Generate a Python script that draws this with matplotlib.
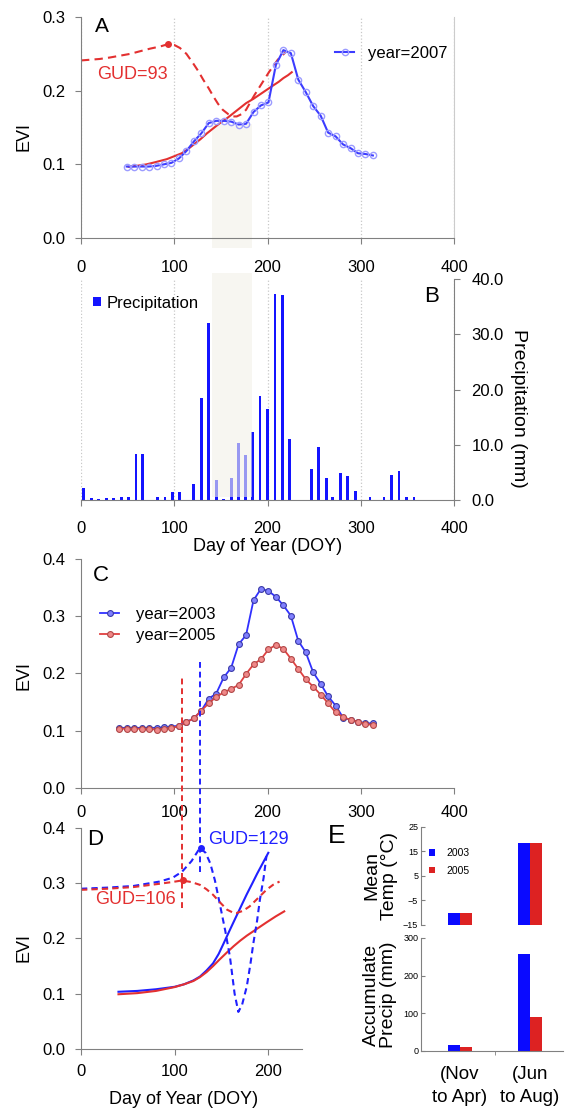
import numpy as np
import matplotlib.pyplot as plt

plt.rcParams['font.family'] = ['Liberation Sans', 'DejaVu Sans']

# ---- panel A: EVI 2007 with fitted curve and curvature-change curve
doy_a = np.arange(49, 314, 8)
evi_2007 = [0.097, 0.097, 0.097, 0.097, 0.098, 0.100, 0.102, 0.108, 0.118, 0.131,
            0.142, 0.156, 0.159, 0.159, 0.158, 0.154, 0.155, 0.171, 0.180, 0.184,
            0.235, 0.255, 0.251, 0.215, 0.198, 0.179, 0.166, 0.143, 0.138, 0.127,
            0.122, 0.115, 0.114, 0.112]
fit_doy_a = [51, 60, 70, 80, 92, 100, 108, 114, 120, 128, 135, 142, 149, 156, 163,
             170, 177, 185, 192, 199, 206, 212, 217, 222, 226]
fit_evi_a = [0.0967, 0.098, 0.0999, 0.103, 0.107, 0.111, 0.115, 0.120, 0.126, 0.134,
             0.142, 0.149, 0.156, 0.162, 0.169, 0.176, 0.183, 0.189, 0.195, 0.201,
             0.207, 0.212, 0.217, 0.221, 0.225]
curv_doy_a = [0, 10, 20, 31, 42, 53, 63, 74, 85, 93, 100, 106, 113, 120, 126, 131, 137,
              142, 147, 152, 158, 163, 167, 172, 177, 181, 186, 192, 197, 202, 207, 211,
              216, 220]
curv_a = [0.241, 0.242, 0.243, 0.245, 0.2475, 0.250, 0.2534, 0.257, 0.260, 0.263,
          0.262, 0.258, 0.250, 0.2375, 0.226, 0.215, 0.203, 0.192, 0.182, 0.174,
          0.168, 0.165, 0.165, 0.168, 0.174, 0.183, 0.194, 0.206, 0.216, 0.226,
          0.235, 0.242, 0.248, 0.253]
gud_a = 93
gud_a_evi = 0.263
band_doy = [140, 183]

# ---- panel B: 8-day precipitation
doy_b = [3, 11, 19, 27, 35, 43, 51, 59, 66, 82, 90, 98, 106, 121, 129, 137, 145, 153,
         161, 169, 176, 184, 192, 200, 208, 216, 224, 247, 255, 263, 270, 278, 286,
         294, 310, 318, 325, 333, 341, 349, 357]
precip = [2.1, 0.35, 0.25, 0.35, 0.3, 0.6, 0.55, 8.4, 8.3, 0.6, 0.6, 1.5, 1.5, 2.9,
          18.5, 32.0, 3.6, 0.25, 4.0, 10.3, 8.2, 12.3, 18.9, 16.5, 37.3, 37.2, 11.1,
          5.6, 9.6, 4.0, 0.5, 4.95, 4.4, 1.7, 0.6, 0.1, 0.6, 4.5, 5.3, 0.6, 0.5]

# ---- panel C: EVI 2003 vs 2005
doy_c = np.arange(41, 314, 8)
evi_2003 = [0.105, 0.105, 0.105, 0.105, 0.105, 0.105, 0.106, 0.107, 0.109, 0.115,
            0.122, 0.135, 0.156, 0.165, 0.193, 0.210, 0.251, 0.267, 0.328, 0.348,
            0.344, 0.334, 0.319, 0.301, 0.257, 0.237, 0.202, 0.182, 0.160, 0.144,
            0.123, 0.119, 0.116, 0.113, 0.113]
evi_2005 = [0.1035, 0.1035, 0.1035, 0.1035, 0.103, 0.102, 0.1035, 0.105, 0.1075,
            0.1145, 0.122, 0.135, 0.148, 0.159, 0.167, 0.173, 0.180, 0.199, 0.216,
            0.225, 0.242, 0.250, 0.243, 0.226, 0.208, 0.190, 0.177, 0.163, 0.148,
            0.132, 0.124, 0.119, 0.116, 0.112, 0.110]
gud_line_doy = [108.5, 128]      # 2005, 2003
gud_line_top = [0.194, 0.226]
gud_line_bottom = [-0.21, -0.147]

# ---- panel D: fitted curves and curvature-change curves
fit_doy_d03 = [40, 60, 80, 100, 110, 120, 127, 134, 141, 147, 152, 158, 163, 170, 177,
               183, 188, 194, 200]
fit_d03 = [0.1035, 0.105, 0.108, 0.1125, 0.117, 0.124, 0.131, 0.142, 0.155, 0.172,
           0.190, 0.212, 0.230, 0.255, 0.280, 0.300, 0.317, 0.336, 0.355]
fit_doy_d05 = [40, 60, 80, 100, 110, 120, 127, 134, 141, 148, 156, 163, 170, 177, 184,
               191, 198, 208, 217]
fit_d05 = [0.099, 0.101, 0.105, 0.112, 0.117, 0.123, 0.130, 0.139, 0.150, 0.162, 0.175,
           0.186, 0.196, 0.205, 0.213, 0.221, 0.229, 0.240, 0.249]
curv_doy_d03 = [0, 28, 56, 84, 98, 108, 118, 127, 133, 138, 143, 148, 154, 159, 164, 168,
                172, 177, 181, 184, 188, 191, 195, 198]
curv_d03 = [0.290, 0.292, 0.295, 0.303, 0.310, 0.321, 0.340, 0.364, 0.355, 0.336, 0.305,
            0.264, 0.214, 0.167, 0.100, 0.067, 0.080, 0.113, 0.155, 0.191, 0.232, 0.270,
            0.310, 0.349]
curv_doy_d05 = [0, 28, 56, 84, 97, 108, 118, 127, 134, 141, 148, 156, 162, 166, 173, 180,
                189, 198, 205, 212]
curv_d05 = [0.288, 0.290, 0.293, 0.299, 0.302, 0.305, 0.302, 0.297, 0.289, 0.279, 0.266,
            0.252, 0.247, 0.246, 0.250, 0.258, 0.273, 0.288, 0.297, 0.303]
gud_d = [128, 108.5]             # 2003, 2005
gud_d_evi = [0.364, 0.305]

# ---- panel E: seasonal climate
periods = ['(Nov\nto Apr)', '(Jun\nto Aug)']
temp_2003 = [-10.3, 18.6]
temp_2005 = [-10.3, 18.6]
precip_2003 = [17, 257]
precip_2005 = [11.5, 89]

BLUE = '#2020ff'
RED = '#e33030'
GRAY = '#808080'
BAND = '#f2f1e8'

fig = plt.figure(figsize=(5.69, 11.10), dpi=100)

# ---------------- A
ax_a = fig.add_axes([0.1424, 0.7856, 0.6555, 0.1991])
ax_a.fill_between(band_doy, -0.0136, 0.155, color=BAND, alpha=0.6, lw=0,
                  zorder=0.5, clip_on=False)
ax_a.plot(fit_doy_a, fit_evi_a, color=RED, lw=1.5, zorder=2)
ax_a.plot(curv_doy_a, curv_a, color=RED, lw=1.5, dashes=(4, 2.5), zorder=2)
ax_a.plot([gud_a], [gud_a_evi], 'o', color=RED, ms=4, zorder=3)
line07, = ax_a.plot(doy_a, evi_2007, color='#3c3cff', lw=1.5, marker='o', ms=4.5,
                    mfc='none', mec='#9c9cff', mew=1, zorder=3, label='year=2007')
ax_a.set_xlim(0, 400)
ax_a.set_ylim(0, 0.3)
ax_a.set_xticks([0, 100, 200, 300, 400])
ax_a.set_yticks([0.0, 0.1, 0.2, 0.3])
ax_a.xaxis.grid(True, linestyle=':', color='#c8c8c8', lw=0.9)
ax_a.set_axisbelow(True)
ax_a.spines['top'].set_visible(False)
ax_a.spines['right'].set_color('#cccccc')
for s in ['left', 'bottom']:
    ax_a.spines[s].set_color(GRAY)
ax_a.tick_params(axis='x', labelsize=12, color=GRAY, length=4, pad=11.5)
ax_a.tick_params(axis='y', labelsize=12, color=GRAY, length=4, pad=7)
ax_a.set_ylabel('EVI', fontsize=13)
ax_a.yaxis.set_label_coords(-0.153, 0.457)
ax_a.yaxis.label.set_va('center')
ax_a.text(0.056, 0.955, 'A', transform=ax_a.transAxes, fontsize=15, ha='center', va='center')
ax_a.text(0.043, 0.742, 'GUD=93', transform=ax_a.transAxes, fontsize=13, color=RED,
          ha='left', va='center')
ax_a.legend(handles=[line07], loc='center left', bbox_to_anchor=(0.681, 0.837),
            frameon=False, borderpad=0, borderaxespad=0, handlelength=1.15,
            handletextpad=0.85, fontsize=12, numpoints=1)

# ---------------- B
ax_b = fig.add_axes([0.1424, 0.5495, 0.6555, 0.1991])
ax_b.bar(doy_b, precip, width=3, color='#1414ff', zorder=2, label='Precipitation')
ax_b.fill_between(band_doy, 0.6, 41.1, color=BAND, alpha=0.6, lw=0, zorder=3,
                  clip_on=False)
ax_b.set_xlim(0, 400)
ax_b.set_ylim(0, 40)
ax_b.set_xticks([0, 100, 200, 300, 400])
ax_b.set_yticks([0, 10, 20, 30, 40])
ax_b.set_yticklabels(['%.1f' % v for v in [0, 10, 20, 30, 40]])
ax_b.xaxis.grid(True, linestyle=':', color='#c8c8c8', lw=0.9)
ax_b.set_axisbelow(True)
ax_b.yaxis.tick_right()
ax_b.spines['top'].set_visible(False)
ax_b.spines['left'].set_visible(False)
for s in ['right', 'bottom']:
    ax_b.spines[s].set_color(GRAY)
ax_b.tick_params(axis='x', labelsize=12, color=GRAY, length=4, pad=10.8)
ax_b.tick_params(axis='y', labelsize=12, color=GRAY, length=4, pad=8.5)
ax_b.set_xlabel('Day of Year (DOY)', fontsize=13, labelpad=2)
ax_b.yaxis.set_label_position('right')
ax_b.set_ylabel('Precipitation (mm)', fontsize=14, rotation=270)
ax_b.yaxis.set_label_coords(1.172, 0.416)
ax_b.yaxis.label.set_va('center')
ax_b.text(0.941, 0.923, 'B', transform=ax_b.transAxes, fontsize=16, ha='center', va='center')
ax_b.legend(loc='center left', bbox_to_anchor=(0.033, 0.891), frameon=False,
            borderpad=0, borderaxespad=0, handlelength=0.48, handleheight=0.48,
            handletextpad=0.3, fontsize=12)

# ---------------- C
ax_c = fig.add_axes([0.1424, 0.2901, 0.6555, 0.2063])
l03, = ax_c.plot(doy_c, evi_2003, color='#3030ff', lw=1.3, marker='o', ms=4.2,
                 mfc='#8080ff', mec='#3a3aa8', mew=0.8, label='year=2003', zorder=3)
l05, = ax_c.plot(doy_c, evi_2005, color='#e04040', lw=1.3, marker='o', ms=4.2,
                 mfc='#f08888', mec='#b04848', mew=0.8, label='year=2005', zorder=3)
for xg, y0, y1, c in zip(gud_line_doy, gud_line_bottom, gud_line_top, [RED, BLUE]):
    ax_c.plot([xg, xg], [y0, y1], color=c, lw=1.4, dashes=(3, 2), clip_on=False, zorder=4)
ax_c.set_xlim(0, 400)
ax_c.set_ylim(0, 0.4)
ax_c.set_xticks([0, 100, 200, 300, 400])
ax_c.set_yticks([0.0, 0.1, 0.2, 0.3, 0.4])
ax_c.spines['top'].set_visible(False)
ax_c.spines['right'].set_visible(False)
for s in ['left', 'bottom']:
    ax_c.spines[s].set_color(GRAY)
ax_c.tick_params(axis='x', labelsize=12, color=GRAY, length=4, pad=8.6)
ax_c.tick_params(axis='y', labelsize=12, color=GRAY, length=4, pad=7)
ax_c.set_ylabel('EVI', fontsize=13)
ax_c.yaxis.set_label_coords(-0.153, 0.49)
ax_c.yaxis.label.set_va('center')
ax_c.text(0.054, 0.93, 'C', transform=ax_c.transAxes, fontsize=16, ha='center', va='center')
ax_c.legend(handles=[l03, l05], loc='center left', bbox_to_anchor=(0.051, 0.712),
            frameon=False, borderpad=0, borderaxespad=0, handlelength=1.15,
            handletextpad=1.0, labelspacing=0.4, fontsize=12, numpoints=1)

# ---------------- D
ax_d = fig.add_axes([0.1424, 0.055, 0.3884, 0.1991])
ax_d.patch.set_visible(False)
ax_d.plot(fit_doy_d03, fit_d03, color=BLUE, lw=1.5)
ax_d.plot(fit_doy_d05, fit_d05, color=RED, lw=1.5)
ax_d.plot(curv_doy_d03, curv_d03, color=BLUE, lw=1.5, dashes=(3, 2))
ax_d.plot(curv_doy_d05, curv_d05, color=RED, lw=1.5, dashes=(3, 2))
ax_d.plot(gud_d[:1], gud_d_evi[:1], 'o', color=BLUE, ms=4)
ax_d.plot(gud_d[1:], gud_d_evi[1:], 'o', color=RED, ms=4)
ax_d.set_xlim(0, 236)
ax_d.set_ylim(0, 0.4)
ax_d.set_xticks([0, 100, 200])
ax_d.set_yticks([0.0, 0.1, 0.2, 0.3, 0.4])
ax_d.spines['top'].set_visible(False)
ax_d.spines['right'].set_visible(False)
for s in ['left', 'bottom']:
    ax_d.spines[s].set_color(GRAY)
ax_d.tick_params(axis='x', labelsize=12, color=GRAY, length=4, pad=6.5)
ax_d.tick_params(axis='y', labelsize=12, color=GRAY, length=4, pad=7)
ax_d.set_ylabel('EVI', fontsize=13)
ax_d.yaxis.set_label_coords(-0.258, 0.46)
ax_d.yaxis.label.set_va('center')
ax_d.set_xlabel('Day of Year (DOY)', fontsize=13)
ax_d.xaxis.set_label_coords(0.466, -0.23)
ax_d.xaxis.label.set_va('center')
ax_d.text(0.063, 0.946, 'D', transform=ax_d.transAxes, fontsize=16, ha='center', va='center')
ax_d.text(0.575, 0.946, 'GUD=129', transform=ax_d.transAxes, fontsize=13,
          color=BLUE, ha='left', va='center')
ax_d.text(0.063, 0.674, 'GUD=106', transform=ax_d.transAxes, fontsize=13,
          color=RED, ha='left', va='center')

# ---------------- E
x = np.arange(len(periods))
w = 0.171
E_BLUE = '#0a0aff'
E_RED = '#dd2222'

ax_et = fig.add_axes([0.7399, 0.1667, 0.2496, 0.0883])
ax_et.bar(x - w / 2, np.array(temp_2003) + 15, w, bottom=-15, color=E_BLUE, label='2003')
ax_et.bar(x + w / 2, np.array(temp_2005) + 15, w, bottom=-15, color=E_RED, label='2005')
ax_et.set_xlim(-0.557, 1.471)
ax_et.set_ylim(-15, 25)
ax_et.set_yticks([-15, -5, 5, 15, 25])
ax_et.set_xticks([])
for s in ['top', 'right', 'bottom']:
    ax_et.spines[s].set_visible(False)
ax_et.spines['left'].set_color(GRAY)
ax_et.tick_params(axis='y', labelsize=6.5, color=GRAY, length=3, direction='in', pad=2)
ax_et.text(-0.285, 0.5, 'Mean\nTemp (°C)', transform=ax_et.transAxes, rotation=90,
           ha='center', va='center', fontsize=14, linespacing=1.05,
           multialignment='center')
ax_et.legend(loc='center left', bbox_to_anchor=(0.055, 0.643), frameon=False,
             borderpad=0, borderaxespad=0, handlelength=0.58, handleheight=0.58,
             handletextpad=1.15, labelspacing=0.7, fontsize=7.5)

ax_ep = fig.add_axes([0.7399, 0.0532, 0.2496, 0.1018])
ax_ep.bar(x - w / 2, precip_2003, w, color=E_BLUE)
ax_ep.bar(x + w / 2, precip_2005, w, color=E_RED)
ax_ep.set_xlim(-0.557, 1.471)
ax_ep.set_ylim(0, 300)
ax_ep.set_yticks([0, 100, 200, 300])
ax_ep.set_xticks(x)
ax_ep.set_xticklabels(periods, fontsize=13.5, linespacing=1.45)
ax_ep.set_xticks([0.5], minor=True)
for s in ['top', 'right']:
    ax_ep.spines[s].set_visible(False)
for s in ['left', 'bottom']:
    ax_ep.spines[s].set_color(GRAY)
ax_ep.tick_params(axis='y', labelsize=6.5, color=GRAY, length=3, direction='in', pad=2)
ax_ep.tick_params(axis='x', which='major', length=0, pad=11)
ax_ep.tick_params(axis='x', which='minor', length=3, color=GRAY)
ax_ep.text(-0.29, 0.5, 'Accumulate\nPrecip (mm)', transform=ax_ep.transAxes, rotation=90,
           ha='center', va='center', fontsize=14, linespacing=1.05,
           multialignment='center')

fig.text(0.592, 0.247, 'E', fontsize=19, ha='center', va='center')

fig.savefig('out.png', dpi=100)
